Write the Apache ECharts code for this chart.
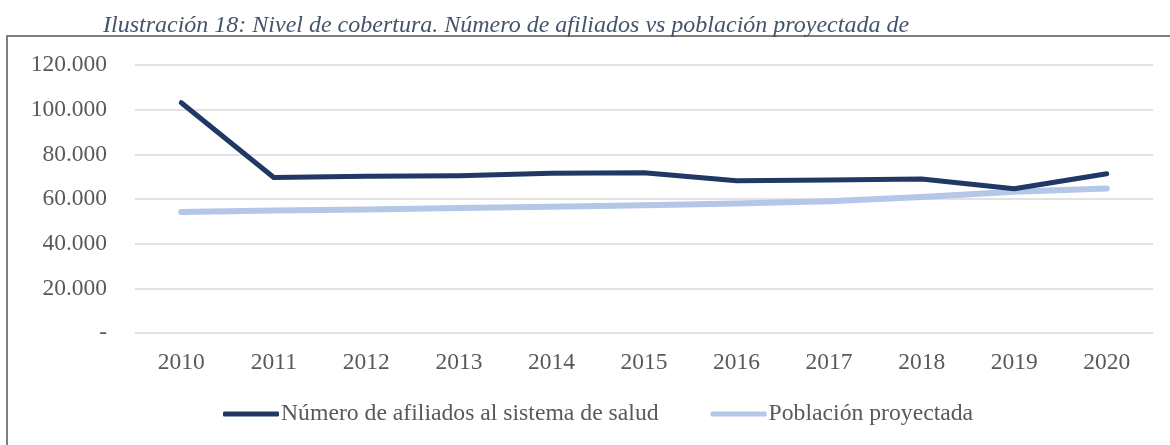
<!DOCTYPE html>
<html>
<head>
<meta charset="utf-8">
<script src="https://cdn.jsdelivr.net/npm/echarts@6/dist/echarts.min.js"></script>
<style>
  html, body { margin: 0; padding: 0; background: #fff; }
  #chart { width: 1170px; height: 445px; }
</style>
</head>
<body>
<div id="chart"></div>
<script>
var years = ["2010", "2011", "2012", "2013", "2014", "2015", "2016", "2017", "2018", "2019", "2020"];
var afiliados = [103100, 69600, 70200, 70400, 71500, 71800, 68200, 68500, 69000, 64600, 71300];
var poblacion = [54200, 54800, 55300, 56000, 56500, 57200, 58000, 59000, 60900, 63200, 64700];

var myChart = echarts.init(document.getElementById("chart"));
var serif = "Liberation Serif";

var option = {
  animation: false,
  textStyle: { fontFamily: serif },
  title: {
    text: "Ilustración 18: Nivel de cobertura. Número de afiliados vs población proyectada de",
    left: 98,
    top: 9,
    textStyle: {
      fontFamily: serif,
      fontStyle: "italic",
      fontWeight: "normal",
      fontSize: 24,
      color: "#44546A"
    }
  },
  graphic: [
    {
      type: "rect",
      shape: { x: 7, y: 36, width: 1200, height: 440 },
      style: { fill: null, stroke: "#7F7F7F", lineWidth: 2 },
      silent: true,
      z: -1
    }
  ],
  legend: {
    left: 218,
    top: 397,
    itemWidth: 56,
    itemHeight: 5,
    itemGap: 52,
    icon: "roundRect",
    textStyle: { fontFamily: serif, fontSize: 23.7, color: "#595959", padding: [0, 0, 0, -3] },
    data: ["Número de afiliados al sistema de salud", "Población proyectada"]
  },
  grid: { left: 135, right: 17, top: 65, bottom: 112, containLabel: false },
  xAxis: {
    type: "category",
    data: years,
    axisLine: { show: false },
    axisTick: { show: false },
    axisLabel: { fontFamily: serif, fontSize: 23.5, color: "#595959", margin: 18 }
  },
  yAxis: {
    type: "value",
    min: 0,
    max: 120000,
    interval: 20000,
    axisLine: { show: false },
    axisTick: { show: false },
    splitLine: { lineStyle: { color: "#D9D9D9", width: 1.5 } },
    axisLabel: {
      fontFamily: serif,
      fontSize: 23.5,
      color: "#595959",
      margin: 28,
      formatter: function (v) {
        if (v === 0) return "-";
        return (v / 1000).toFixed(0) + ".000";
      }
    }
  },
  series: [
    {
      name: "Número de afiliados al sistema de salud",
      type: "line",
      data: afiliados,
      symbol: "none",
      lineStyle: { color: "#203864", width: 5, cap: "round", join: "round" },
      itemStyle: { color: "#203864" },
      z: 3
    },
    {
      name: "Población proyectada",
      type: "line",
      data: poblacion,
      symbol: "none",
      lineStyle: { color: "#B4C7E7", width: 6, cap: "round", join: "round" },
      itemStyle: { color: "#B4C7E7" },
      z: 2
    }
  ]
};
myChart.setOption(option);
window.addEventListener("resize", function () { myChart.resize(); });
</script>
</body>
</html>
